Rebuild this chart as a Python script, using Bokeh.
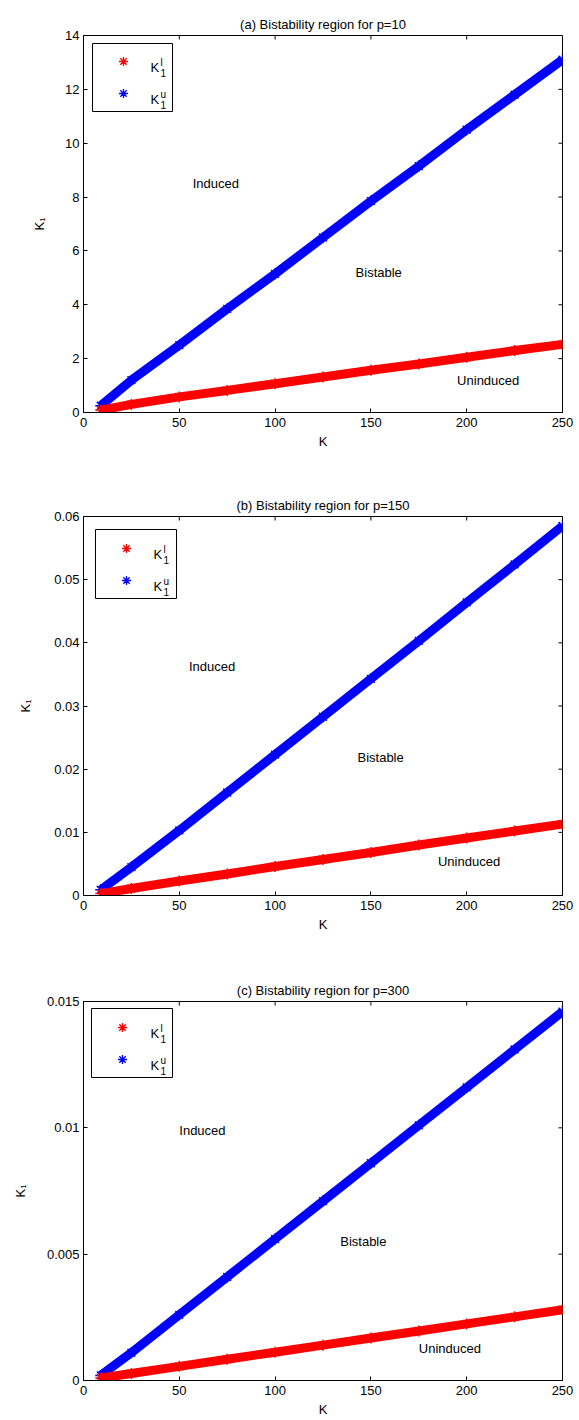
from bokeh.plotting import figure
from bokeh.models import Range1d, FixedTicker, Label, BoxAnnotation
from bokeh.layouts import column
from bokeh.embed import file_html
from bokeh.resources import INLINE

# ---------------- data ----------------
K_VALUES = [9, 25, 50, 75, 100, 125, 150, 175, 200, 225, 250]

A_UPPER = [0.25, 1.2, 2.5, 3.85, 5.15, 6.5, 7.85, 9.15, 10.5, 11.8, 13.1]
A_LOWER = [0.09, 0.3, 0.58, 0.82, 1.07, 1.32, 1.57, 1.8, 2.05, 2.3, 2.53]

B_UPPER = [0.0009, 0.0045, 0.0103, 0.0163, 0.0223, 0.0283, 0.0343, 0.0403, 0.0464, 0.0524, 0.0585]
B_LOWER = [0.0003, 0.0011, 0.0023, 0.0034, 0.0046, 0.0057, 0.0068, 0.0080, 0.0091, 0.0102, 0.0113]

C_UPPER = [0.0002, 0.0011, 0.0026, 0.0041, 0.0056, 0.0071, 0.0086, 0.0101, 0.0116, 0.0131, 0.0146]
C_LOWER = [0.0001, 0.00028, 0.00056, 0.00084, 0.00112, 0.0014, 0.00168, 0.00196, 0.00224, 0.00252, 0.0028]

X_TICKS = [0, 50, 100, 150, 200, 250]
X_TICK_LABELS = ["0", "50", "100", "150", "200", "250"]

A_Y_TICKS = [0, 2, 4, 6, 8, 10, 12, 14]
A_Y_LABELS = ["0", "2", "4", "6", "8", "10", "12", "14"]
B_Y_TICKS = [0, 0.01, 0.02, 0.03, 0.04, 0.05, 0.06]
B_Y_LABELS = ["0", "0.01", "0.02", "0.03", "0.04", "0.05", "0.06"]
C_Y_TICKS = [0, 0.005, 0.01, 0.015]
C_Y_LABELS = ["0", "0.005", "0.01", "0.015"]

TITLES = ["(a) Bistability region for p=10",
          "(b) Bistability region for p=150",
          "(c) Bistability region for p=300"]
REGION_NAMES = ["Induced", "Bistable", "Uninduced"]
# region label anchor points (K, K1), left aligned
A_REGIONS = [(57, 8.5), (142, 5.2), (195, 1.2)]
B_REGIONS = [(55, 0.0362), (143, 0.0218), (185, 0.0054)]
C_REGIONS = [(50, 0.0099), (134, 0.0055), (175, 0.00125)]

FONT = "Liberation Sans"
FS = "13px"
RED = "#ff0000"
BLUE = "#0000ff"

FRAME_LEFT = 83
FRAME_W = 479


def make_panel(title, kvals, upper, lower, yticks, ylabels, ymax, regions,
               border_top, frame_h, border_bottom, page_top, legend_px, ylab_standoff):
    p = figure(frame_width=FRAME_W, frame_height=frame_h,
               min_border_left=FRAME_LEFT, min_border_right=17,
               min_border_top=border_top, min_border_bottom=border_bottom,
               x_range=Range1d(0, 250), y_range=Range1d(0, ymax),
               output_backend="svg", toolbar_location=None)
    p.xgrid.visible = False
    p.ygrid.visible = False
    p.outline_line_color = "black"
    p.outline_line_width = 1
    p.background_fill_color = "white"
    p.border_fill_color = "white"

    # title
    p.title.text = title
    p.title.align = "center"
    p.title.text_font = FONT
    p.title.text_font_size = FS
    p.title.text_font_style = "normal"
    p.title.text_color = "black"
    p.title.standoff = 8

    top = page_top + border_top  # frame top in page px

    def X(px):
        return (px - FRAME_LEFT) / FRAME_W * 250

    def Y(py):
        return (top + frame_h - py) / frame_h * ymax

    def style(ax, ticks, labels):
        ax.ticker = FixedTicker(ticks=ticks)
        ax.major_label_overrides = {t: s for t, s in zip(ticks, labels)}
        ax.axis_line_color = "black"
        ax.major_tick_line_color = "black"
        ax.major_tick_in = 4
        ax.major_tick_out = 0
        ax.minor_tick_line_color = None
        ax.major_label_text_font = FONT
        ax.major_label_text_color = "black"
        ax.major_label_text_font_size = FS
        ax.axis_label_text_font = FONT
        ax.axis_label_text_font_size = FS
        ax.axis_label_text_font_style = "normal"
        ax.axis_label_text_color = "black"

    style(p.xaxis[0], X_TICKS, X_TICK_LABELS)
    p.xaxis[0].major_label_standoff = 5
    p.xaxis[0].axis_label = "K"
    p.xaxis[0].axis_label_standoff = 4
    style(p.yaxis[0], yticks, ylabels)
    p.yaxis[0].major_label_standoff = 4
    p.yaxis[0].axis_label = "K\u2081"
    p.yaxis[0].axis_label_standoff = ylab_standoff

    # inward ticks on the top and right edges of the box
    tick_dy = 4 / frame_h * ymax
    tick_dx = 4 / FRAME_W * 250
    p.segment(x0=X_TICKS, y0=[ymax] * len(X_TICKS), x1=X_TICKS,
              y1=[ymax - tick_dy] * len(X_TICKS), line_color="black", line_width=1)
    p.segment(x0=[250] * len(yticks), y0=yticks, x1=[250 - tick_dx] * len(yticks),
              y1=yticks, line_color="black", line_width=1)

    # data bands
    p.line(kvals, upper, line_color=BLUE, line_width=9)
    p.scatter(kvals, upper, marker="asterisk", size=11, line_color=BLUE, line_width=1.5)
    p.line(kvals, lower, line_color=RED, line_width=9)
    p.scatter(kvals, lower, marker="asterisk", size=11, line_color=RED, line_width=1.5)

    # region labels
    for name, (kx, ky) in zip(REGION_NAMES, regions):
        p.add_layout(Label(x=kx, y=ky, text=name, text_align="left",
                           text_baseline="middle", text_font=FONT,
                           text_font_size=FS, text_color="black"))

    # legend
    lx0, ly0, lx1, ly1, mx, my1, my2, tx = legend_px
    p.add_layout(BoxAnnotation(left=X(lx0), right=X(lx1), top=Y(ly0), bottom=Y(ly1),
                               fill_color="white", fill_alpha=1.0,
                               line_color="black", line_width=1, line_alpha=1.0,
                               level="underlay"))
    for my, col, sup in [(my1, RED, "l"), (my2, BLUE, "u")]:
        p.scatter([X(mx)], [Y(my)], marker="asterisk", size=9, line_color=col,
                  line_width=1.3)
        p.add_layout(Label(x=X(tx), y=Y(my + 5.5), text="K", text_align="left",
                           text_baseline="alphabetic", text_font=FONT,
                           text_font_size=FS, text_color="black"))
        p.add_layout(Label(x=X(tx + 10), y=Y(my + 11), text="1", text_align="left",
                           text_baseline="alphabetic", text_font=FONT,
                           text_font_size="10px", text_color="black"))
        p.add_layout(Label(x=X(tx + 10), y=Y(my + 0.5), text=sup, text_align="left",
                           text_baseline="alphabetic", text_font=FONT,
                           text_font_size="10px", text_color="black"))
    return p


pa = make_panel(TITLES[0], K_VALUES, A_UPPER, A_LOWER, A_Y_TICKS, A_Y_LABELS, 14,
                A_REGIONS, 35, 377, 73, 0,
                (92, 43, 172, 111, 123, 61, 93, 150), 15)
pb = make_panel(TITLES[1], K_VALUES, B_UPPER, B_LOWER, B_Y_TICKS, B_Y_LABELS, 0.06,
                B_REGIONS, 31, 379, 75, 485,
                (95, 529, 176, 598, 126, 548, 580, 153), 18)
pc = make_panel(TITLES[2], K_VALUES, C_UPPER, C_LOWER, C_Y_TICKS, C_Y_LABELS, 0.015,
                C_REGIONS, 31, 379, 40, 970,
                (91, 1008, 172, 1077, 122, 1027, 1059, 150), 16)

layout = column(pa, pb, pc, spacing=0)
open("out.html", "w").write(file_html(layout, INLINE))
